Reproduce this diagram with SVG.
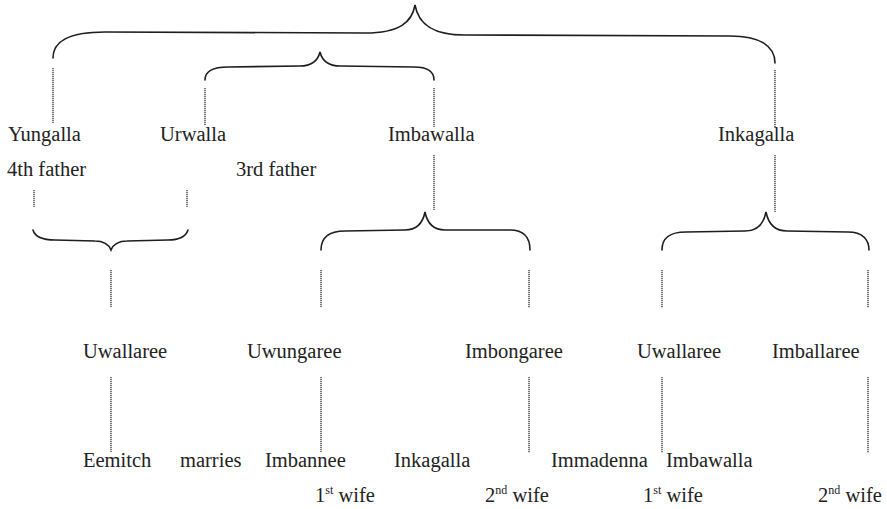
<svg xmlns="http://www.w3.org/2000/svg" width="887" height="509" viewBox="0 0 887 509">
<style>
text{font-family:"Liberation Serif","Times New Roman",serif;font-size:20.5px;fill:#222}
.sup{font-size:12px}
.brace{fill:none;stroke:#1e1e1e;stroke-width:1.6;stroke-linecap:round}
.dash{stroke:#333;stroke-width:1.3;stroke-dasharray:1.2,0.8}
</style>
<rect width="887" height="509" fill="#fff"/>
<g id="connectors">
<path class="brace" d="M53,58 C53,42 68,32 105,32 L365,33 C400,33 412,22 415,5 C418,22 430,35 465,35 L730,36 C760,36 775,46 775,63"/>
<path class="brace" d="M205,80 C205,72 212,67 228,67 L300,66 C313,66 318,60 320,52 C322,60 327,66 340,66 L414,67 C428,67 434,72 434,80"/>
<path class="brace" d="M33,230 C35,237 42,240 55,240 L95,241 C105,241 109,245 111,250 C113,245 117,241 127,241 L168,240 C180,240 186,236 188,230"/>
<path class="brace" d="M321,250 C321,238 328,231 345,231 L405,230 C418,230 423,222 425,212 C427,222 432,230 445,230 L510,230 C524,230 530,238 530,250"/>
<path class="brace" d="M662,250 C662,238 669,232 686,232 L745,231 C758,231 764,222 766,212 C768,222 774,231 787,231 L848,232 C863,232 869,240 869,250"/>
<line class="dash" x1="53" y1="68" x2="53" y2="123"/>
<line class="dash" x1="205" y1="88" x2="205" y2="125"/>
<line class="dash" x1="434" y1="88" x2="434" y2="127"/>
<line class="dash" x1="775" y1="70" x2="775" y2="127"/>
<line class="dash" x1="434" y1="155" x2="434" y2="210"/>
<line class="dash" x1="775" y1="155" x2="775" y2="212"/>
<line class="dash" x1="34" y1="190" x2="34" y2="207"/>
<line class="dash" x1="187" y1="190" x2="187" y2="207"/>
<line class="dash" x1="111" y1="270" x2="111" y2="307"/>
<line class="dash" x1="321" y1="270" x2="321" y2="307"/>
<line class="dash" x1="529" y1="270" x2="529" y2="308"/>
<line class="dash" x1="662" y1="270" x2="662" y2="308"/>
<line class="dash" x1="868" y1="270" x2="868" y2="308"/>
<line class="dash" x1="111" y1="377" x2="111" y2="452"/>
<line class="dash" x1="321" y1="377" x2="321" y2="452"/>
<line class="dash" x1="529" y1="377" x2="529" y2="453"/>
<line class="dash" x1="662" y1="377" x2="662" y2="453"/>
<line class="dash" x1="868" y1="377" x2="868" y2="453"/>
</g>
<g id="yungalla"><text x="8" y="141">Yungalla</text><text x="7" y="176">4th father</text></g>
<g id="urwalla"><text x="160" y="141">Urwalla</text><text x="236" y="176">3rd father</text></g>
<g id="imbawalla"><text x="388" y="141">Imbawalla</text></g>
<g id="inkagalla"><text x="718" y="141">Inkagalla</text></g>
<g id="uwallaree-1"><text x="83" y="358">Uwallaree</text></g>
<g id="uwungaree"><text x="247" y="358">Uwungaree</text></g>
<g id="imbongaree"><text x="465" y="358">Imbongaree</text></g>
<g id="uwallaree-2"><text x="637" y="358">Uwallaree</text></g>
<g id="imballaree"><text x="772" y="358">Imballaree</text></g>
<g id="eemitch"><text x="83" y="467">Eemitch</text></g>
<g id="marries"><text x="180" y="467">marries</text></g>
<g id="imbannee"><text x="265" y="467">Imbannee</text><text x="315" y="502">1<tspan class="sup" dy="-8">st</tspan><tspan dy="8"> wife</tspan></text></g>
<g id="inkagalla-wife"><text x="394" y="467">Inkagalla</text><text x="485" y="502">2<tspan class="sup" dy="-8">nd</tspan><tspan dy="8"> wife</tspan></text></g>
<g id="immadenna"><text x="551" y="467">Immadenna</text><text x="643" y="502">1<tspan class="sup" dy="-8">st</tspan><tspan dy="8"> wife</tspan></text></g>
<g id="imbawalla-wife"><text x="666" y="467">Imbawalla</text><text x="818" y="502">2<tspan class="sup" dy="-8">nd</tspan><tspan dy="8"> wife</tspan></text></g>
</svg>
